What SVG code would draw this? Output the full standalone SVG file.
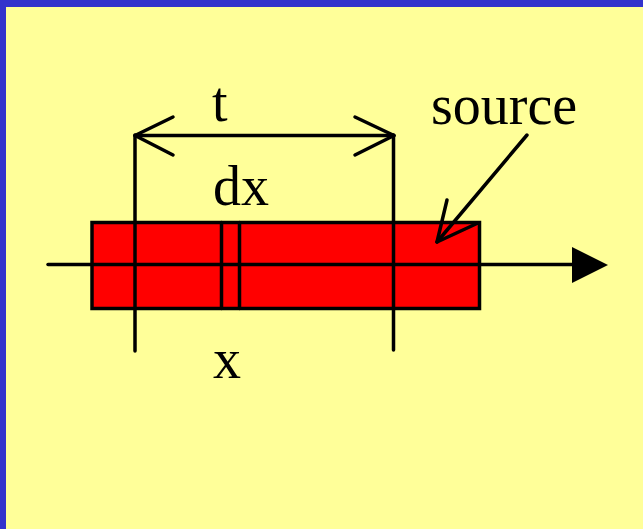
<svg xmlns="http://www.w3.org/2000/svg" width="643" height="529" viewBox="0 0 643 529">
<style>
.ln{stroke:#000;stroke-width:3.5;fill:none;stroke-linecap:round;stroke-linejoin:round}
.lb{font-family:"Liberation Serif","Times New Roman",serif;font-size:56px;fill:#000}
</style>
<rect x="0" y="0" width="643" height="529" fill="#3333CC"/>
<rect x="6" y="7" width="637" height="522" fill="#FFFF99"/>
<g id="source-bar">
<rect x="92" y="222.5" width="387.5" height="86" fill="#FF0000" stroke="#000" stroke-width="3.5"/>
<line class="ln" x1="221.5" y1="222.5" x2="221.5" y2="308.5"/>
<line class="ln" x1="239.5" y1="222.5" x2="239.5" y2="308.5"/>
</g>
<g id="connectors">
<line class="ln" x1="48" y1="264.5" x2="574" y2="264.5"/>
<polygon points="572,247 608,265 572,283" fill="#000"/>
<line class="ln" x1="135" y1="135" x2="135" y2="351"/>
<line class="ln" x1="393.5" y1="135" x2="393.5" y2="350"/>
<line class="ln" x1="135" y1="135.5" x2="394" y2="135.5"/>
<polyline class="ln" points="173,117 135,135.5 173,155"/>
<polyline class="ln" points="355,117 394,135.5 355,155"/>
<line class="ln" x1="527" y1="135" x2="437" y2="242"/>
<polyline class="ln" points="447,200 437,242 478,223"/>
</g>
<g id="labels">
<text class="lb" x="212" y="121">t</text>
<text class="lb" x="213" y="205">dx</text>
<text class="lb" x="213" y="378">x</text>
<text class="lb" x="431" y="124">source</text>
</g>
</svg>
